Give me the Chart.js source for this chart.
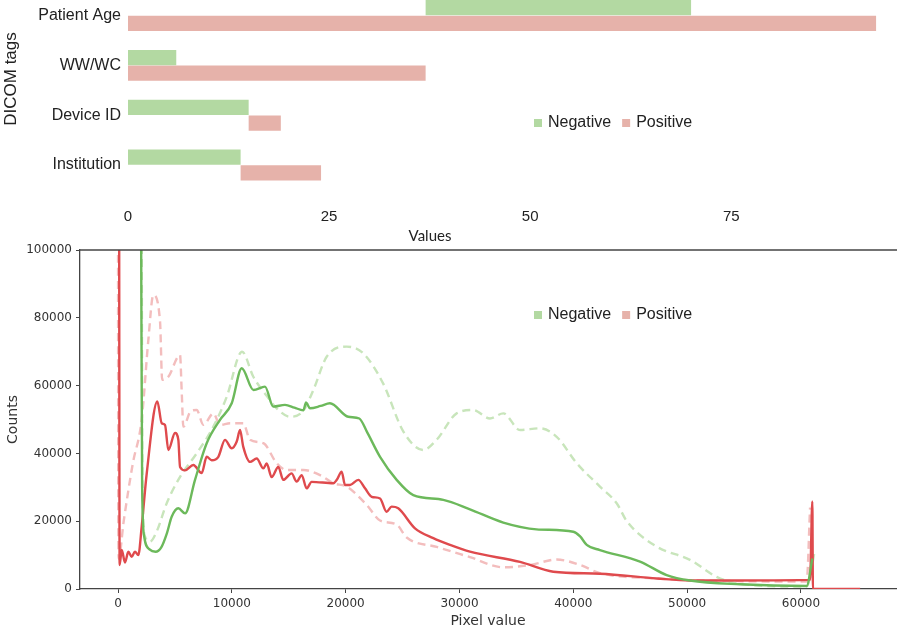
<!DOCTYPE html>
<html>
<head>
<meta charset="utf-8">
<script src="https://cdn.jsdelivr.net/npm/chart.js@4"></script>
<style>
  html, body { margin: 0; padding: 0; background: #fff; overflow: hidden; }
  body { width: 897px; height: 633px; position: relative; }
  #tagsBox { position: absolute; left: 0; top: -26px; }
  #pixelBox { position: absolute; left: 0; top: 236px; }
</style>
</head>
<body>
<div id="tagsBox"><canvas id="tagsChart" width="897" height="271"></canvas></div>
<div id="pixelBox"><canvas id="pixelChart" width="897" height="397"></canvas></div>
<script>
// top chart: DICOM tags
const tagLabels = ["Patient Age", "WW/WC", "Device ID", "Institution"];
const negativeStart = [37, 0, 0, 0];
const negativeEnd = [70, 6, 15, 14];
const positiveStart = [0, 0, 15, 14];
const positiveEnd = [93, 37, 19, 24];
const valueTicks = [0, 25, 50, 75];
const legendNames = ["Negative", "Positive"];

// bottom chart: pixel value histograms
const pixelTicks = [0, 10000, 20000, 30000, 40000, 50000, 60000];
const countTicks = [0, 20000, 40000, 60000, 80000, 100000];

const negSolidX = [2030, 2120, 2300, 2800, 3300, 3800, 4300, 4715, 5300, 5890, 6765, 7790, 8960, 9990, 10870, 11900, 12910, 13640, 14670, 15500, 16280, 16520, 16870, 17800, 18620, 20230, 21200, 21850, 23020, 24480, 25940, 28580, 30920, 33850, 36770, 40000, 40600, 41180, 42340, 45860, 48200, 50250, 54640, 60500, 61000];
const negSolidY = [105000, 30000, 15500, 11600, 11000, 12300, 16500, 21300, 23800, 22300, 32200, 43000, 49900, 54800, 65100, 58700, 59700, 53800, 54300, 53500, 52700, 55000, 53300, 54000, 54800, 50800, 50300, 46500, 39000, 32200, 27700, 26300, 23500, 19600, 17600, 16900, 15500, 13000, 11500, 8100, 4100, 2500, 1400, 900, 9000];

const negDashX = [2080, 2150, 2370, 2810, 3400, 4280, 5450, 6910, 8380, 9550, 10900, 11890, 13060, 13940, 15110, 16280, 17160, 18330, 20090, 21550, 23310, 25060, 26820, 27990, 29750, 31210, 32680, 33850, 35320, 37070, 38540, 40300, 42340, 43810, 44700, 47330, 50250, 52590, 54640, 60500, 61230];
const negDashY = [105000, 30000, 15500, 14000, 17000, 25300, 33100, 40000, 47900, 56700, 70000, 62600, 57000, 53300, 50800, 52600, 58700, 68500, 71500, 69500, 60500, 46500, 41000, 44000, 51800, 52800, 50300, 51800, 46900, 47400, 44900, 37100, 30200, 25300, 20000, 12500, 8600, 3600, 1500, 700, 11500];

const posSolidX = [100, 140, 325, 615, 905, 1200, 1490, 1785, 2080, 2520, 3455, 3840, 4130, 4420, 5010, 5300, 5450, 5890, 6620, 7350, 7790, 8230, 8815, 9400, 9990, 10430, 10720, 11000, 11600, 12185, 12770, 13060, 13500, 14080, 14520, 15250, 15690, 16140, 16570, 17010, 18920, 19220, 19650, 19940, 20380, 21110, 21700, 22290, 23020, 23600, 24040, 24620, 26090, 27700, 29170, 30920, 35320, 38240, 42340, 47330, 50250, 60800, 61000, 61050, 65200];
const posSolidY = [110000, 7100, 11500, 7800, 11000, 9500, 11000, 10000, 18400, 34000, 55300, 48900, 48400, 41000, 46000, 44000, 36000, 35000, 36600, 34200, 39000, 38000, 39000, 44000, 41500, 43500, 46900, 42000, 37500, 38500, 35600, 37000, 33000, 36000, 32200, 34100, 31700, 33600, 29700, 31600, 31200, 32200, 34600, 30700, 30700, 32200, 29700, 27200, 26700, 22800, 24300, 23800, 17900, 15000, 13000, 11000, 8000, 5100, 4500, 3100, 2500, 2700, 25800, 0, 0];

const posDashX = [0, 20, 60, 500, 1300, 2080, 2665, 3100, 3690, 3880, 4420, 5450, 5590, 5740, 6400, 6910, 7500, 8380, 8960, 9840, 11000, 11600, 12770, 13940, 14820, 16280, 17750, 18920, 20090, 21850, 23020, 24480, 25360, 28000, 30920, 33850, 36220, 38540, 40590, 42340, 47330, 51720, 60500, 60800];
const posDashY = [110000, 30000, 9000, 20000, 37000, 50000, 73500, 86700, 79000, 61700, 62600, 69000, 58700, 47900, 52500, 52800, 48400, 51800, 48400, 48900, 48900, 44000, 43000, 37100, 35100, 35100, 33600, 31200, 30200, 24800, 20200, 19000, 15200, 12400, 9400, 6400, 7100, 8700, 7100, 4700, 3100, 2500, 2200, 24000];

const negColor = "#b3d9a2";
const posColor = "#e6b2aa";
const toPoints = (xs, ys) => xs.map((x, i) => ({ x: x, y: ys[i] }));

// square-box legend drawn at a fixed spot
const boxLegend = {
  id: "boxLegend",
  afterDraw(chart, args, opts) {
    const ctx = chart.ctx;
    ctx.save();
    ctx.font = "16px 'Liberation Sans', Arial, sans-serif";
    ctx.textBaseline = "middle";
    let x = opts.x;
    legendNames.forEach((name, i) => {
      ctx.fillStyle = opts.colors[i];
      ctx.fillRect(x, opts.y - 4, 8, 8);
      x += 14;
      ctx.fillStyle = "#222";
      ctx.fillText(name, x, opts.y);
      x += ctx.measureText(name).width + 11;
    });
    ctx.restore();
  }
};

// free axis titles for the top chart
const freeTitles = {
  id: "freeTitles",
  afterDraw(chart, args, opts) {
    const ctx = chart.ctx;
    opts.items.forEach(t => {
      ctx.save();
      ctx.font = t.font;
      ctx.fillStyle = "#222";
      ctx.textAlign = "center";
      ctx.textBaseline = "middle";
      ctx.translate(t.x, t.y);
      ctx.rotate(t.rotate || 0);
      ctx.fillText(t.text, 0, 0);
      ctx.restore();
    });
  }
};

// top spine of the bottom plot
const topSpine = {
  id: "topSpine",
  afterDraw(chart) {
    const { ctx, chartArea } = chart;
    ctx.save();
    ctx.strokeStyle = "#444";
    ctx.lineWidth = 1.3;
    ctx.beginPath();
    ctx.moveTo(chartArea.left, chartArea.top);
    ctx.lineTo(chart.width, chartArea.top);
    ctx.stroke();
    ctx.restore();
  }
};

new Chart(document.getElementById("tagsChart"), {
  type: "bar",
  data: {
    labels: tagLabels,
    datasets: [
      { label: "Negative", data: tagLabels.map((_, i) => [negativeStart[i], negativeEnd[i]]), backgroundColor: negColor },
      { label: "Positive", data: tagLabels.map((_, i) => [positiveStart[i], positiveEnd[i]]), backgroundColor: posColor }
    ]
  },
  options: {
    indexAxis: "y",
    responsive: false,
    animation: false,
    layout: { padding: { top: 10, right: 0, bottom: 0, left: 0 } },
    datasets: { bar: { categoryPercentage: 0.63, barPercentage: 0.97 } },
    scales: {
      x: {
        min: 0,
        max: 95.6,
        grid: { display: false, drawTicks: false },
        border: { display: false },
        afterBuildTicks: s => { s.ticks = valueTicks.map(v => ({ value: v })); },
        afterFit: s => { s.height = 55; },
        ticks: { padding: 18, color: "#222", font: { family: "'Liberation Sans', Arial, sans-serif", size: 15 } }
      },
      y: {
        grid: { display: false, drawTicks: false },
        border: { display: false },
        afterFit: s => { s.width = 128; },
        ticks: { padding: 7, color: "#222", font: { family: "'Liberation Sans', Arial, sans-serif", size: 16 } }
      }
    },
    plugins: {
      legend: { display: false },
      tooltip: { enabled: false },
      boxLegend: { x: 534, y: 149, colors: [negColor, posColor] },
      freeTitles: {
        items: [
          { text: "DICOM tags", x: 11, y: 105, rotate: -Math.PI / 2, font: "17px 'Liberation Sans', Arial, sans-serif" },
          { text: "Values", x: 430, y: 262, font: "15px Lato, sans-serif" }
        ]
      }
    }
  },
  plugins: [boxLegend, freeTitles]
});

const tickFont = { family: "'DejaVu Sans', sans-serif", size: 12 };

new Chart(document.getElementById("pixelChart"), {
  type: "line",
  data: {
    datasets: [
      { label: "Negative", data: toPoints(negSolidX, negSolidY), borderColor: "#6cb95b", borderWidth: 2.4, order: 0 },
      { label: "Positive", data: toPoints(posSolidX, posSolidY), borderColor: "#df4a4d", borderWidth: 2.4, order: 0 },
      { label: "Negative (dashed)", data: toPoints(negDashX, negDashY), borderColor: "#c8e5bb", borderWidth: 2.4, borderDash: [8, 5], order: 1 },
      { label: "Positive (dashed)", data: toPoints(posDashX, posDashY), borderColor: "#f3bdbd", borderWidth: 2.4, borderDash: [8, 5], order: 1 }
    ]
  },
  options: {
    responsive: false,
    animation: false,
    layout: { padding: { top: 14, right: 1, bottom: 0, left: 0 } },
    elements: { point: { radius: 0 }, line: { cubicInterpolationMode: "monotone" } },
    scales: {
      x: {
        type: "linear",
        min: -3340,
        max: 68350,
        afterBuildTicks: s => { s.ticks = pixelTicks.map(v => ({ value: v })); },
        afterFit: s => { s.height = 44; },
        grid: { drawOnChartArea: false, tickLength: 4, color: "#444" },
        border: { color: "#444", width: 1.3 },
        ticks: { padding: 4, color: "#333", font: tickFont, callback: v => String(v) },
        title: { display: true, text: "Pixel value", color: "#333", font: { family: "'DejaVu Sans', sans-serif", size: 14 }, padding: { top: 0, bottom: 3 } }
      },
      y: {
        min: 0,
        max: 100000,
        afterBuildTicks: s => { s.ticks = countTicks.map(v => ({ value: v })); },
        afterFit: s => { s.width = 80; },
        grid: { drawOnChartArea: false, tickLength: 4, color: "#444" },
        border: { color: "#444", width: 1.3 },
        ticks: { padding: 4, color: "#333", font: tickFont, callback: v => String(v) },
        title: { display: true, text: "Counts", color: "#333", font: { family: "'DejaVu Sans', sans-serif", size: 14 }, padding: { top: 5, bottom: 0 } }
      }
    },
    plugins: {
      legend: { display: false },
      tooltip: { enabled: false },
      boxLegend: { x: 534, y: 79, colors: [negColor, posColor] }
    }
  },
  plugins: [boxLegend, topSpine]
});
</script>
</body>
</html>
